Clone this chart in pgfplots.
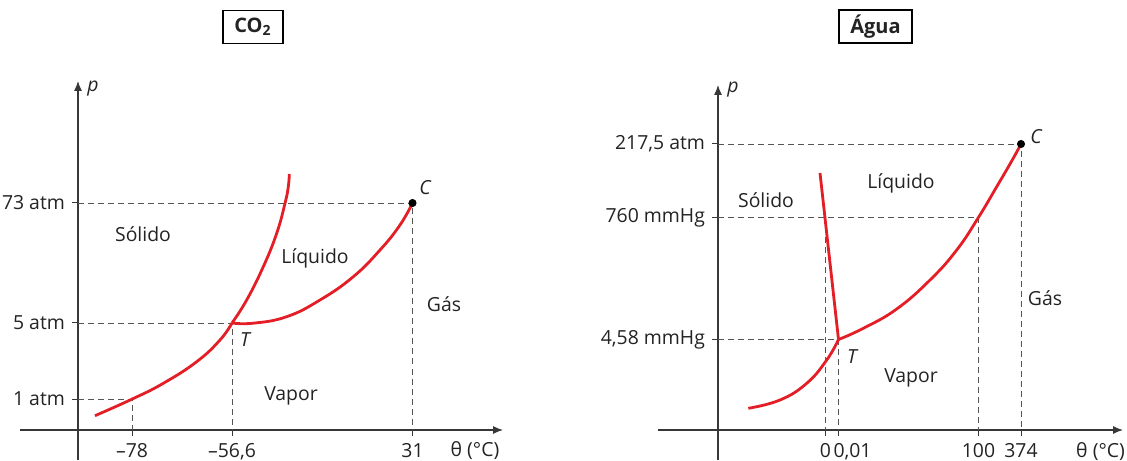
\documentclass[border=0pt]{standalone}
\usepackage{fontspec}
\setmainfont{Open Sans}
\usepackage{pgfplots}
\pgfplotsset{compat=1.18}
\usetikzlibrary{arrows.meta}
\definecolor{redc}{RGB}{228,30,38}
\definecolor{axc}{RGB}{55,55,55}
\definecolor{dashc}{RGB}{85,85,85}
\definecolor{txt}{RGB}{35,35,35}
\newcommand\lbl{\fontsize{9.7}{12}\selectfont}
\pgfplotsset{
 phase/.style={
  axis lines=middle,
  x=0.5pt, y=0.5pt,
  enlargelimits=false,
  clip=false,
  axis line style={axc, line width=0.55pt, -{Latex[length=5pt,width=4pt]}},
  tick style={axc, line width=0.5pt},
  major tick length=3pt,
  tick align=outside,
  ticklabel style={font=\lbl, text=txt},
 },
 redcurve/.style={redc, line width=1.4pt, no marks, smooth, tension=0.75},
 dl/.style={dashc, line width=0.45pt, dash pattern=on 3pt off 2pt, no marks},
}
\begin{document}
\begin{tikzpicture}[font=\lbl, text=txt]
\useasboundingbox (-39pt,-15pt) rectangle (524.5pt,215pt);
% ---------------- CO2 ----------------
\begin{axis}[phase, at={(0,0)}, anchor=origin,
 xmin=-58, xmax=425, ymin=-30, ymax=349,
 xtick={54,154,334.5}, xticklabels={--78, {--56,6}, 31},
 ytick={31,107,227}, yticklabels={1 atm, 5 atm, 73 atm}]
\addplot[dl] coordinates {(0,227) (334.5,227) (334.5,0)};
\addplot[dl] coordinates {(0,107) (154,107) (154,0)};
\addplot[dl] coordinates {(0,31) (54,31) (54,0)};
\addplot[redcurve] coordinates {(17,14.3) (54.3,31) (85.3,46.7) (118.7,68.3) (142,90) (154,107)};
\addplot[redcurve] coordinates {(154,107) (168.7,130) (185.3,163.3) (198.7,196.7) (207,226.7) (210.3,243.3) (211.3,256)};
\addplot[redcurve] coordinates {(154,107) (175.3,106.8) (208.7,113.3) (242,130) (275.3,153.3) (302,180) (322,205) (334.5,227)};
\addplot[only marks, mark=*, mark size=1.8pt, black] coordinates {(334.5,227)};
\node at (axis cs:65,196) {Sólido};
\node at (axis cs:237,172) {Líquido};
\node at (axis cs:366,126) {Gás};
\node at (axis cs:213,34) {Vapor};
\node at (axis cs:347,242) {\itshape C};
\node at (axis cs:167,90) {\itshape T};
\node at (axis cs:15,341) {\itshape p};
\node at (axis cs:397,-21) {θ (°C)};
\node[draw=black, line width=0.6pt, minimum width=30pt, minimum height=16.5pt, inner sep=0pt, font=\fontsize{10}{12}\selectfont\bfseries] at (axis cs:175,403) {CO\textsubscript{2}};
\end{axis}
% ---------------- Agua ----------------
\begin{axis}[phase, at={(320pt,0)}, anchor=origin,
 xmin=-60, xmax=405, ymin=-30, ymax=345,
 xtick={107.5,120.5,260.5,303}, xticklabels={0, {\makebox[0pt][l]{\hspace{-2.5pt}0,01}}, 100, 374},
 ytick={90.5,212.7,286}, yticklabels={{4,58 mmHg}, 760 mmHg, {217,5 atm}}]
\addplot[dl] coordinates {(0,286) (303,286) (303,0)};
\addplot[dl] coordinates {(0,212.7) (260.5,212.7) (260.5,0)};
\addplot[dl] coordinates {(0,90.5) (120.5,90.5) (120.5,0)};
\addplot[dl] coordinates {(107.5,212.7) (107.5,0)};
\addplot[redc, line width=1.4pt, no marks] coordinates {(102,257) (120.5,90.5)};
\addplot[redcurve] coordinates {(30.3,21.7) (62,30) (88.7,46.7) (108.7,70) (120.5,90.5)};
\addplot[redcurve] coordinates {(120.5,90.5) (145.3,101.7) (178.7,121) (212,150) (238.7,180) (260.5,212.7) (278.7,243.3) (293.7,269) (303,286)};
\addplot[only marks, mark=*, mark size=1.8pt, black] coordinates {(303,286)};
\node at (axis cs:48,230) {Sólido};
\node at (axis cs:183,247) {Líquido};
\node at (axis cs:327,132) {Gás};
\node at (axis cs:193,52) {Vapor};
\node at (axis cs:318,293) {\itshape C};
\node at (axis cs:134,73) {\itshape T};
\node at (axis cs:15,340) {\itshape p};
\node at (axis cs:382.5,-22) {θ (°C)};
\node[draw=black, line width=0.6pt, minimum width=36.5pt, minimum height=16.5pt, inner sep=0pt, font=\fontsize{10}{12}\selectfont\bfseries] at (axis cs:157.5,403.5) {Água};
\end{axis}
\end{tikzpicture}
\end{document}
